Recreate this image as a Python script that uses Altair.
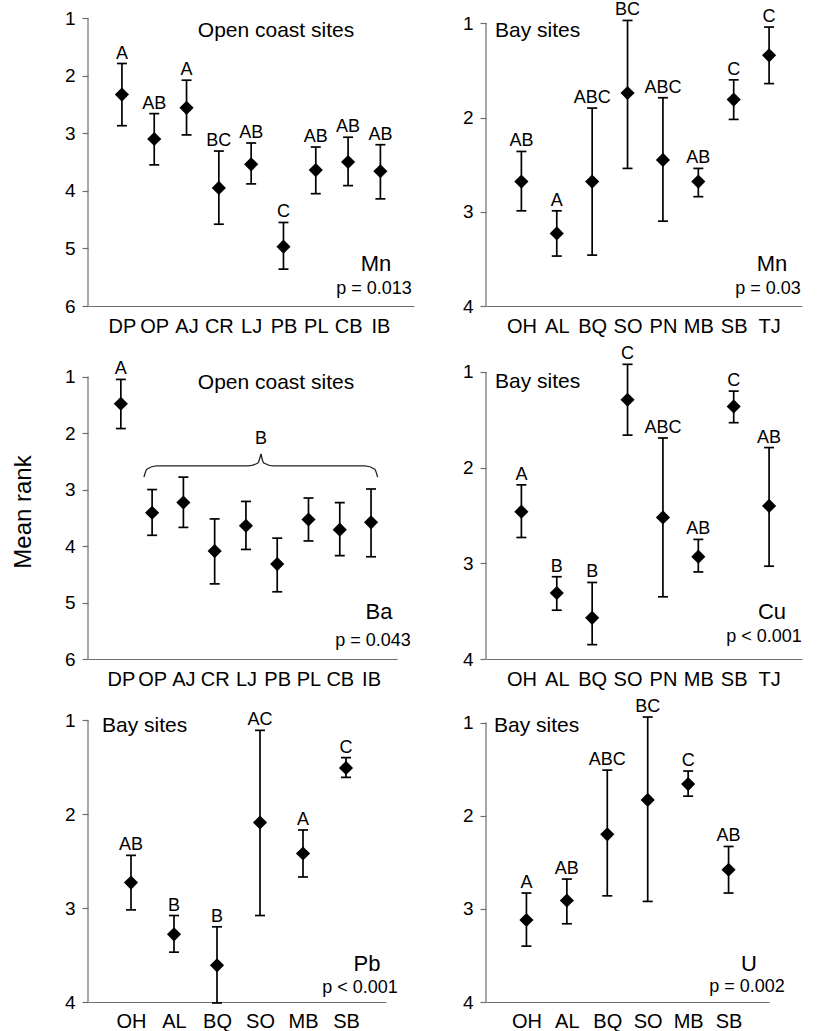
import json
import altair as alt
import pandas as pd

FONT = "Liberation Sans"
AXIS_GREY = "#6e6e6e"

# ---------------- data ----------------
sites_open = ["DP", "OP", "AJ", "CR", "LJ", "PB", "PL", "CB", "IB"]
sites_bay8 = ["OH", "AL", "BQ", "SO", "PN", "MB", "SB", "TJ"]
sites_bay6 = ["OH", "AL", "BQ", "SO", "MB", "SB"]

# Mn, open coast
mn_open_mean = [2.33, 3.10, 2.56, 3.95, 3.54, 4.97, 3.64, 3.50, 3.66]
mn_open_top = [1.79, 2.66, 2.08, 3.31, 3.17, 4.55, 3.24, 3.07, 3.20]
mn_open_bot = [2.87, 3.55, 3.03, 4.58, 3.88, 5.36, 4.05, 3.91, 4.14]
mn_open_let = ["A", "AB", "A", "BC", "AB", "C", "AB", "AB", "AB"]

# Mn, bay
mn_bay_mean = [2.68, 3.23, 2.68, 1.74, 2.45, 2.68, 1.81, 1.34]
mn_bay_top = [2.36, 2.99, 1.90, 0.97, 1.79, 2.54, 1.60, 1.04]
mn_bay_bot = [2.99, 3.47, 3.46, 2.54, 3.10, 2.84, 2.02, 1.64]
mn_bay_let = ["AB", "A", "ABC", "BC", "ABC", "AB", "C", "C"]

# Ba, open coast
ba_open_mean = [1.48, 3.41, 3.23, 4.09, 3.64, 4.32, 3.53, 3.71, 3.58]
ba_open_top = [1.05, 3.00, 2.78, 3.52, 3.21, 3.86, 3.15, 3.23, 2.99]
ba_open_bot = [1.92, 3.81, 3.67, 4.67, 4.06, 4.81, 3.91, 4.17, 4.19]
ba_open_let = ["A", "", "", "", "", "", "", "", ""]

# Cu, bay
cu_bay_mean = [2.46, 3.31, 3.57, 1.29, 2.52, 2.93, 1.36, 2.40]
cu_bay_top = [2.18, 3.14, 3.20, 0.92, 1.69, 2.75, 1.20, 1.79]
cu_bay_bot = [2.73, 3.49, 3.85, 1.66, 3.35, 3.09, 1.53, 3.03]
cu_bay_let = ["A", "B", "B", "C", "ABC", "AB", "C", "AB"]

# Pb, bay
pb_bay_mean = [2.73, 3.28, 3.61, 2.09, 2.42, 1.51]
pb_bay_top = [2.44, 3.08, 3.20, 1.11, 2.17, 1.40]
pb_bay_bot = [3.02, 3.47, 4.01, 3.08, 2.67, 1.61]
pb_bay_let = ["AB", "B", "B", "AC", "A", "C"]

# U, bay
u_bay_mean = [3.12, 2.91, 2.20, 1.83, 1.66, 2.58]
u_bay_top = [2.83, 2.68, 1.51, 0.94, 1.52, 2.33]
u_bay_bot = [3.40, 3.16, 2.86, 2.92, 1.79, 2.83]
u_bay_let = ["A", "AB", "ABC", "BC", "C", "AB"]

# brace over OP..IB in the Ba panel (site index, rank), two halves
brace_x = [1.74, 1.83, 2.14, 5.07, 5.38, 5.48, 5.48, 5.57, 5.88, 8.81, 9.12, 9.21]
brace_y = [2.78, 2.64, 2.58, 2.58, 2.53, 2.37, 2.37, 2.53, 2.58, 2.58, 2.64, 2.78]
brace_part = ["L"] * 6 + ["R"] * 6


def xenc(field, sites, xdomain, pad=10):
    n = len(sites)
    return alt.X(
        f"{field}:Q",
        scale=alt.Scale(domain=xdomain, nice=False, zero=False),
        axis=alt.Axis(
            values=list(range(1, n + 1)),
            labelExpr=json.dumps(sites) + "[datum.value - 1]",
            ticks=False, grid=False, title=None,
            labelFont=FONT, labelFontSize=20, labelColor="black",
            labelPadding=pad, labelOverlap=False, labelFlush=False,
            domainColor=AXIS_GREY, domainWidth=1.2,
        ),
    )


def yenc(field, ydomain):
    ymax = ydomain[1]
    return alt.Y(
        f"{field}:Q",
        scale=alt.Scale(domain=ydomain, reverse=True, nice=False, zero=False),
        axis=alt.Axis(
            values=list(range(1, ymax + 1)), format="d", domain=False,
            grid=False, title=None, tickSize=6, tickColor=AXIS_GREY,
            tickWidth=1.2, labelFont=FONT, labelFontSize=19,
            labelColor="black", labelPadding=7,
        ),
    )


def note(text, x, y, size, align="center", angle=0):
    return alt.Chart(pd.DataFrame({"t": [text]})).mark_text(
        align=align, baseline="middle", fontSize=size, font=FONT,
        color="black", angle=angle,
    ).encode(x=alt.value(x), y=alt.value(y), text="t:N")


def panel(sites, mean, top, bot, letters, ydomain, width, height, xdomain, notes,
          extra=None, xpad=10):
    df = pd.DataFrame({
        "idx": list(range(1, len(sites) + 1)),
        "mean": mean, "top": top, "bot": bot, "letter": letters,
    })
    base = alt.Chart(df)
    X = xenc("idx", sites, xdomain, xpad)
    # y-axis line, from rank 1 to the last rank
    yline = alt.Chart(pd.DataFrame({"a": [1], "b": [ydomain[1]]})).mark_rule(
        color=AXIS_GREY, strokeWidth=1.2).encode(
        x=alt.value(0), y=yenc("a", ydomain), y2="b:Q")
    bars = base.mark_rule(color="black", strokeWidth=1.7).encode(
        x=X, y=yenc("top", ydomain), y2="bot:Q")
    cap_t = base.mark_tick(orient="horizontal", color="black", size=10,
                           thickness=1.7, opacity=1).encode(x=X, y=yenc("top", ydomain))
    cap_b = base.mark_tick(orient="horizontal", color="black", size=10,
                           thickness=1.7, opacity=1).encode(x=X, y=yenc("bot", ydomain))
    pts = base.mark_point(shape="diamond", filled=True, size=200, color="black",
                          opacity=1).encode(x=X, y=yenc("mean", ydomain))
    lets = base.mark_text(baseline="alphabetic", dy=-5, fontSize=18, font=FONT,
                          color="black").encode(x=X, y=yenc("top", ydomain),
                                                text="letter:N")
    layers = [yline, bars, cap_t, cap_b, pts, lets] + notes
    if extra:
        layers += extra
    return alt.layer(*layers).properties(width=width, height=height)


H1, H2, H3 = 288, 292, 282

p1 = panel(sites_open, mn_open_mean, mn_open_top, mn_open_bot, mn_open_let, [1, 6],
           326, H1, [-0.05, 10.04],
           [note("Open coast sites", 188, 13, 21), note("Mn", 288, 246, 22),
            note("p = 0.013", 286, 271, 18)])

p2 = panel(sites_bay8, mn_bay_mean, mn_bay_top, mn_bay_bot, mn_bay_let, [0.944, 4],
           316, H1, [0, 8.93],
           [note("Bay sites", 9, 13, 21, align="left"), note("Mn", 286, 246, 22),
            note("p = 0.03", 282, 271, 18)])

P3_DOM = [0.83, 6]
P3_X = [-0.05, 9.83]
brace_df = pd.DataFrame({"bx": brace_x, "by": brace_y, "part": brace_part})
brace = alt.Chart(brace_df).mark_line(color="#222222", strokeWidth=1.3,
                                      interpolate="monotone").encode(
    x=xenc("bx", sites_open, P3_X), y=yenc("by", P3_DOM), detail="part:N")
b_label = alt.Chart(pd.DataFrame({"lx": [5.48], "ly": [2.11], "t": ["B"]})).mark_text(
    baseline="middle", fontSize=18, font=FONT, color="black").encode(
    x=xenc("lx", sites_open, P3_X), y=yenc("ly", P3_DOM), text="t:N")

p3 = panel(sites_open, ba_open_mean, ba_open_top, ba_open_bot, ba_open_let, P3_DOM,
           309, H2, P3_X,
           [note("Open coast sites", 188, 16, 21), note("Ba", 291, 245, 22),
            note("p = 0.043", 285, 274, 18),
            note("Mean rank", -64, 145, 24, angle=270)],
           extra=[brace, b_label])

p4 = panel(sites_bay8, cu_bay_mean, cu_bay_top, cu_bay_bot, cu_bay_let, [0.948, 4],
           316, H2, [0, 8.93],
           [note("Bay sites", 9, 15, 21, align="left"), note("Cu", 286, 245, 22),
            note("p < 0.001", 278, 270, 18)])

p5 = panel(sites_bay6, pb_bay_mean, pb_bay_top, pb_bay_bot, pb_bay_let, [1, 4],
           298, H3, [0, 6.93],
           [note("Bay sites", 14, 6, 21, align="left"), note("Pb", 279, 244, 22),
            note("p < 0.001", 272, 268, 18)], xpad=9)

p6 = panel(sites_bay6, u_bay_mean, u_bay_top, u_bay_bot, u_bay_let, [0.972, 4],
           283, H3, [0, 7],
           [note("Bay sites", 8, 6, 21, align="left"), note("U", 263, 244, 22),
            note("p = 0.002", 261, 267, 18)], xpad=9)

chart = alt.concat(
    p1, p2, p3, p4, p5, p6, columns=2,
    spacing={"row": 61, "column": 72}, bounds="flush", align="each",
).properties(
    padding={"left": 12, "top": 1, "right": 5, "bottom": 5},
    background="white",
).configure_view(stroke=None)

chart.save("out.html", embed_options={"renderer": "svg", "actions": False})
